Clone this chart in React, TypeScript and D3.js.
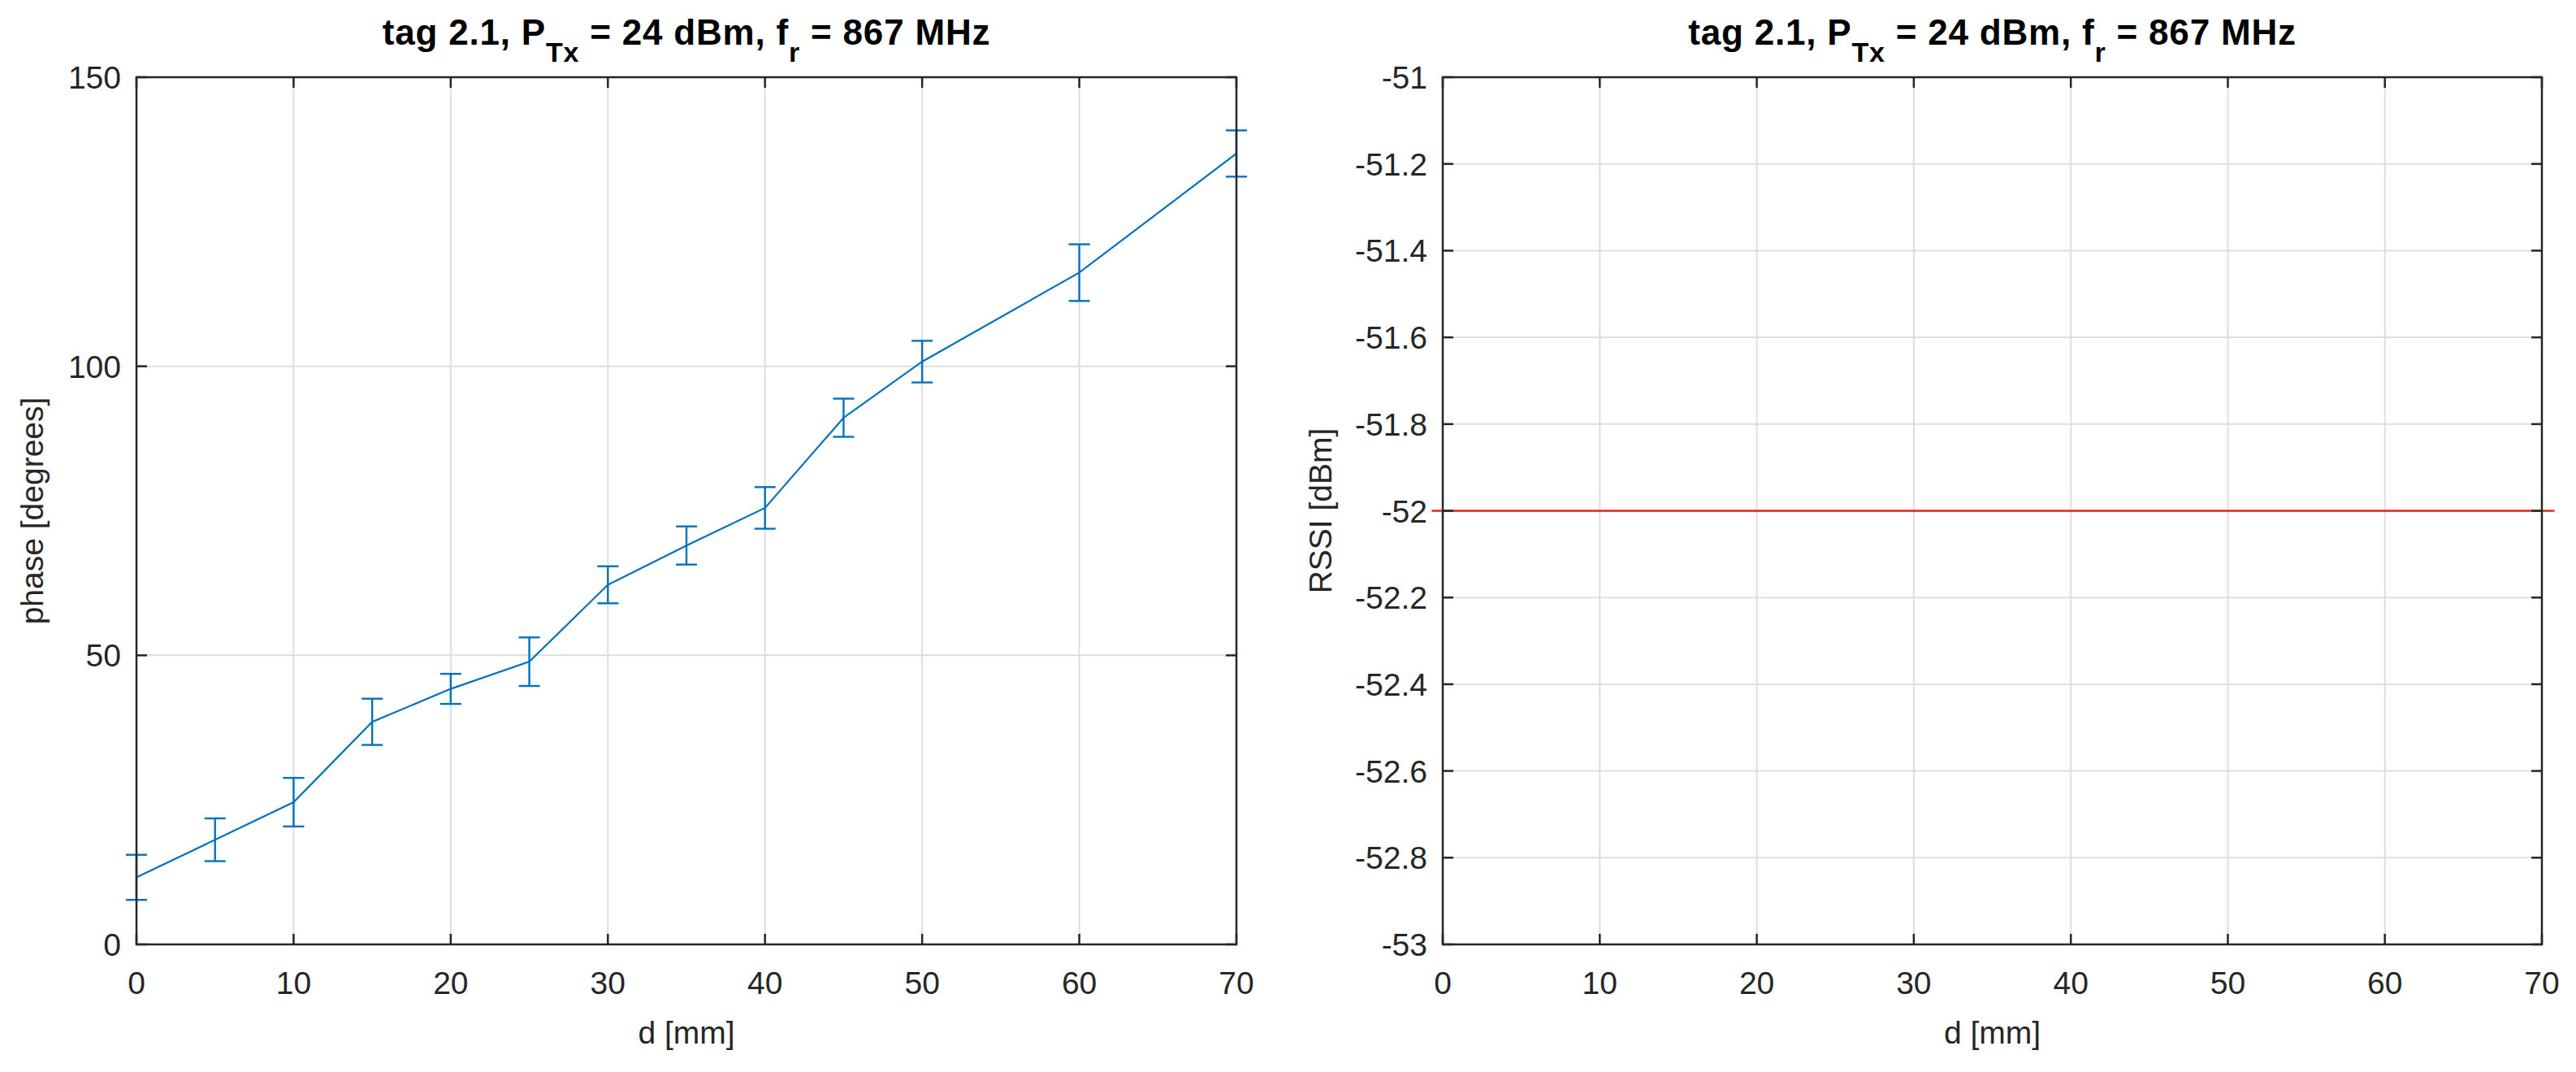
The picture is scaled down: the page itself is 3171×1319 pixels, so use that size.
import * as d3 from 'd3'
import type { ReactNode } from 'react'

// distances in mm, phase in degrees (mean +/- std), RSSI in dBm
const distances = [0, 5, 10, 15, 20, 25, 30, 35, 40, 45, 50, 60, 70]
const phaseMean = [11.6, 18.1, 24.6, 38.5, 44.2, 48.9, 62.2, 69.0, 75.5, 91.1, 100.8, 116.2, 136.8]
const phaseErr = [3.9, 3.7, 4.2, 4.0, 2.6, 4.2, 3.2, 3.3, 3.6, 3.3, 3.6, 4.9, 4.0]
const rssiD = [-0.7, 70.8]
const rssiValues = [-52, -52]

const dTicks = [0, 10, 20, 30, 40, 50, 60, 70]
const phaseTicks = [0, 50, 100, 150]
const rssiTicks = [-51, -51.2, -51.4, -51.6, -51.8, -52, -52.2, -52.4, -52.6, -52.8, -53]

const W = 3171
const H = 1319
const TOP = 95
const BOTTOM = 1162
const FONT = '"Liberation Sans", Arial, Helvetica, sans-serif'
const INK = '#262626'
const GRID = '#dedede'
const BLUE = '#0072BD'
const RED = '#e8211d'

type PanelProps = {
  left: number
  right: number
  yDomain: [number, number]
  yTicks: number[]
  yLabel: string
  yLabelX: number
  children: (x: d3.ScaleLinear<number, number>, y: d3.ScaleLinear<number, number>) => ReactNode
}

function Title({ cx }: { cx: number }) {
  return (
    <text
      x={cx}
      y={55}
      textAnchor="middle"
      fontFamily={FONT}
      fontWeight="bold"
      fontSize={44}
      letterSpacing={0.8}
      fill="#000"
    >
      tag 2.1, P
      <tspan dy={21} fontSize={34}>Tx</tspan>
      <tspan dy={-21}> = 24 dBm, f</tspan>
      <tspan dy={21} fontSize={34}>r</tspan>
      <tspan dy={-21}> = 867 MHz</tspan>
    </text>
  )
}

function Panel({ left, right, yDomain, yTicks, yLabel, yLabelX, children }: PanelProps) {
  const x = d3.scaleLinear().domain([0, 70]).range([left, right])
  const y = d3.scaleLinear().domain(yDomain).range([BOTTOM, TOP])
  const tick = 13
  const fmt = (v: number) => String(+v.toFixed(1))

  return (
    <g>
      {/* grid */}
      {dTicks.slice(1, -1).map((t) => (
        <line key={`gx${t}`} x1={x(t)} x2={x(t)} y1={TOP} y2={BOTTOM} stroke={GRID} strokeWidth={2} />
      ))}
      {yTicks
        .filter((t) => t !== yDomain[0] && t !== yDomain[1])
        .map((t) => (
          <line key={`gy${t}`} x1={left} x2={right} y1={y(t)} y2={y(t)} stroke={GRID} strokeWidth={2} />
        ))}

      {children(x, y)}

      {/* box and ticks */}
      <rect x={left} y={TOP} width={right - left} height={BOTTOM - TOP} fill="none" stroke={INK} strokeWidth={2.5} />
      {dTicks.map((t) => (
        <g key={`tx${t}`}>
          <line x1={x(t)} x2={x(t)} y1={BOTTOM} y2={BOTTOM - tick} stroke={INK} strokeWidth={2.5} />
          <line x1={x(t)} x2={x(t)} y1={TOP} y2={TOP + tick} stroke={INK} strokeWidth={2.5} />
          <text x={x(t)} y={1223} textAnchor="middle" fontFamily={FONT} fontSize={39} fill={INK}>
            {t}
          </text>
        </g>
      ))}
      {yTicks.map((t) => (
        <g key={`ty${t}`}>
          <line x1={left} x2={left + tick} y1={y(t)} y2={y(t)} stroke={INK} strokeWidth={2.5} />
          <line x1={right} x2={right - tick} y1={y(t)} y2={y(t)} stroke={INK} strokeWidth={2.5} />
          <text
            x={left - 19}
            y={y(t)}
            dy="0.36em"
            textAnchor="end"
            fontFamily={FONT}
            fontSize={39}
            fill={INK}
          >
            {fmt(t)}
          </text>
        </g>
      ))}

      <text
        x={(left + right) / 2}
        y={1284}
        textAnchor="middle"
        fontFamily={FONT}
        fontSize={39}
        fill={INK}
      >
        d [mm]
      </text>
      <text
        transform={`translate(${yLabelX},${(TOP + BOTTOM) / 2}) rotate(-90)`}
        textAnchor="middle"
        fontFamily={FONT}
        fontSize={39}
        fill={INK}
      >
        {yLabel}
      </text>
      <Title cx={(left + right) / 2} />
    </g>
  )
}

export default function App() {
  return (
    <svg
      width={W}
      height={H}
      viewBox={`0 0 ${W} ${H}`}
      style={{ position: 'absolute', left: 0, top: 0, background: '#fff' }}
    >
      <rect width={W} height={H} fill="#fff" />
      <Panel left={168} right={1522} yDomain={[0, 150]} yTicks={phaseTicks} yLabel="phase [degrees]" yLabelX={53}>
        {(x, y) => {
          const line = d3
            .line<number>()
            .x((_, i) => x(distances[i]))
            .y((v) => y(v))
          const cap = 13
          return (
            <g>
              <path d={line(phaseMean) || ''} fill="none" stroke={BLUE} strokeWidth={2.2} />
              {distances.map((d, i) => {
                const px = x(d)
                const hi = y(phaseMean[i] + phaseErr[i])
                const lo = y(phaseMean[i] - phaseErr[i])
                return (
                  <g key={d} stroke={BLUE} strokeWidth={2.4}>
                    <line x1={px} x2={px} y1={hi} y2={lo} />
                    <line x1={px - cap} x2={px + cap} y1={hi} y2={hi} />
                    <line x1={px - cap} x2={px + cap} y1={lo} y2={lo} />
                  </g>
                )
              })}
            </g>
          )
        }}
      </Panel>
      <Panel left={1776} right={3129} yDomain={[-53, -51]} yTicks={rssiTicks} yLabel="RSSI [dBm]" yLabelX={1639}>
        {(x, y) => {
          const line = d3
            .line<number>()
            .x((_, i) => x(rssiD[i]))
            .y((v) => y(v))
          return <path d={line(rssiValues) || ''} fill="none" stroke={RED} strokeWidth={2.4} />
        }}
      </Panel>
    </svg>
  )
}
